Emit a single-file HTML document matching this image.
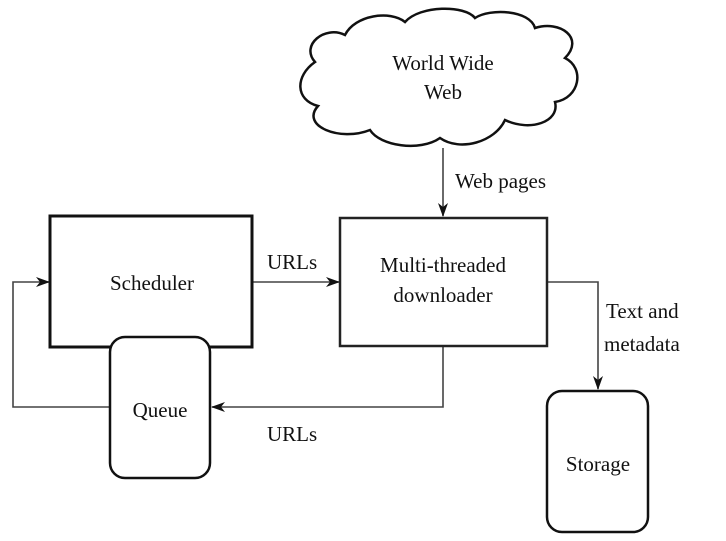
<!DOCTYPE html>
<html><head><meta charset="utf-8"><style>
html,body{margin:0;padding:0;background:#fff;}
svg{display:block;}
svg text{font-family:"Liberation Serif","Times New Roman","DejaVu Serif",serif;font-size:21px;fill:#111;}
</style></head><body>
<svg width="726" height="541" viewBox="0 0 726 541" xmlns="http://www.w3.org/2000/svg" font-family="Liberation Serif, Times New Roman, DejaVu Serif, serif">
<defs>
<marker id="a" markerWidth="14" markerHeight="10" refX="13" refY="5" orient="auto" markerUnits="userSpaceOnUse">
<path d="M0,0 L14,5 L0,10 L4,5 Z" fill="#111"/>
</marker>
</defs>
<g fill="none" stroke="#444" stroke-width="1.6">
<polyline points="110,407 13,407 13,282 49,282" marker-end="url(#a)"/>
<line x1="252" y1="282" x2="339" y2="282" marker-end="url(#a)"/>
<line x1="443" y1="148" x2="443" y2="216" marker-end="url(#a)"/>
<polyline points="443,346 443,407 212,407" marker-end="url(#a)"/>
<polyline points="547,282 598,282 598,389" marker-end="url(#a)"/>
</g>
<rect x="50" y="216" width="202" height="131" fill="#fff" stroke="#111" stroke-width="3"/>
<rect x="340" y="218" width="207" height="128" fill="#fff" stroke="#222" stroke-width="2.5"/>
<rect x="110" y="337" width="100" height="141" rx="15" fill="#fff" stroke="#111" stroke-width="2.5"/>
<rect x="547" y="391" width="101" height="141" rx="15" fill="#fff" stroke="#111" stroke-width="2.5"/>
<path d="M315,62 C300,45 325,25 345,35 C355,15 390,10 405,22 C420,5 465,5 475,18 C490,8 530,10 535,28 C560,20 585,38 565,58 C585,68 580,98 555,102 C560,122 530,132 505,120 C495,142 460,152 440,138 C420,152 380,146 370,130 C340,142 300,126 318,106 C295,100 295,76 315,62 Z" fill="#fff" stroke="#111" stroke-width="2.5"/>
<text x="443" y="70" text-anchor="middle">World Wide</text>
<text x="443" y="99" text-anchor="middle">Web</text>
<text x="455" y="188">Web pages</text>
<text x="152" y="290" text-anchor="middle">Scheduler</text>
<text x="443" y="272" text-anchor="middle">Multi-threaded</text>
<text x="443" y="302" text-anchor="middle">downloader</text>
<text x="267" y="269">URLs</text>
<text x="267" y="441">URLs</text>
<text x="160" y="417" text-anchor="middle">Queue</text>
<text x="598" y="471" text-anchor="middle">Storage</text>
<text x="606" y="318">Text and</text>
<text x="604" y="351">metadata</text>
</svg>
</body></html>
